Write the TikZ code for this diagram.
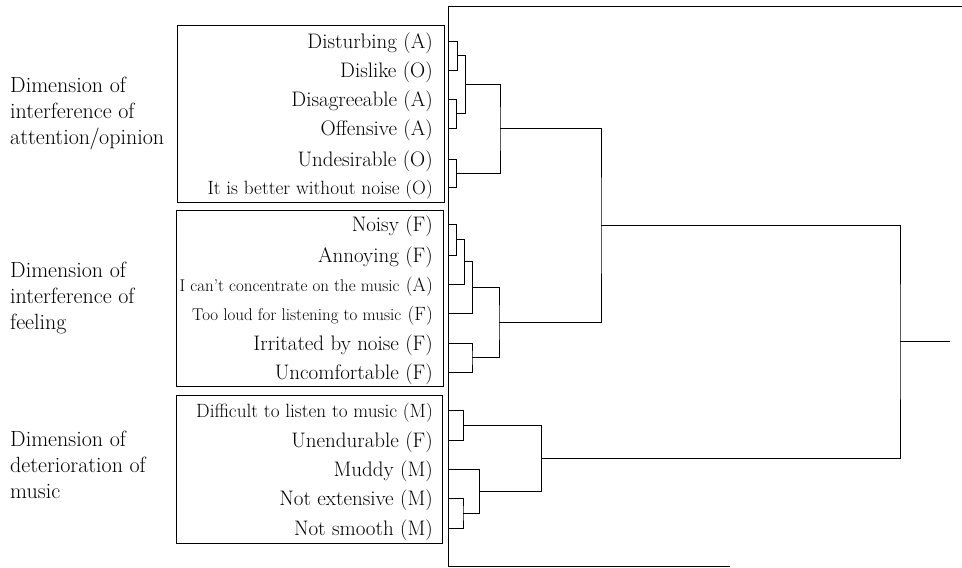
\documentclass[tikz,border=0pt]{standalone}
\usepackage{tikz}
\usetikzlibrary{calc}

\tikzset{
  lbl/.style={anchor=base east, inner sep=0pt, font=\fontsize{21}{25}\selectfont},
  dimlbl/.style={anchor=north west, inner sep=0pt, align=left, font=\fontsize{22}{26}\selectfont},
  grpbox/.style={draw, line width=0.9pt},
  tree/.style={line width=0.9pt},
}
\newcommand{\smallfnt}{\fontsize{17}{20}\selectfont}
\newcommand{\midfnt}{\fontsize{19.2}{22}\selectfont}

\begin{document}
\begin{tikzpicture}[x=1pt, y=-1pt]
  \useasboundingbox (0,0) rectangle (962,568);
  % items and leaf points
  \foreach \y/\txt [count=\i] in {41/Disturbing (A), 70/Dislike (O),
    99/Disagreeable (A), 128/Offensive (A), 159/Undesirable (O),
    187/{\midfnt It is better without noise (O)}, 224/Noisy (F), 255/Annoying (F),
    284/{{\smallfnt I can't concentrate on the music} {\midfnt(A)}},
    313/{{\smallfnt Too loud for listening to music} {\midfnt(F)}},
    343/Irritated by noise (F), 372/Uncomfortable (F),
    410/{\midfnt Difficult to listen to music (M)}, 440/Unendurable (F),
    469/Muddy (M), 498/Not extensive (M), 528/Not smooth (M)} {
    \node[lbl] (t\i) at (433,\y+7) {\txt};
    \coordinate (l\i) at (448,\y);
  }
  % group boxes
  \draw[grpbox] (177,25) rectangle (444,202);
  \draw[grpbox] (176,210) rectangle (443,386);
  \draw[grpbox] (176,395) rectangle (442,543);
  % dimensions
  \node[dimlbl] (d1) at (10,77) {Dimension of\\interference of\\attention\kern-0.5pt/\kern-0.5pt opinion};
  \node[dimlbl] (d2) at (10,262) {Dimension of\\interference of\\feeling};
  \node[dimlbl] (d3) at (10,431) {Dimension of\\deterioration of\\music};
  % frame of the tree
  \coordinate (axtop) at (448,6);
  \coordinate (axbot) at (448,566);
  \coordinate (topend) at (962,6);
  \coordinate (botend) at (730,566);
  \draw[tree] (topend) -- (axtop) -- (axbot) -- (botend);
  % merges
  \foreach \a/\b/\m/\x in {l1/l2/m12/457.7, l3/l4/m34/456.7, m12/m34/m1234/465.7,
    l5/l6/m56/456.7, m1234/m56/mA/500, l7/l8/m78/456.7, m78/l9/m789/464.3,
    m789/l10/m710/472.3, l11/l12/m1112/472, m710/m1112/mB/499, mA/mB/mAB/601,
    l13/l14/m1314/463.3, l16/l17/m1617/463, l15/m1617/m1517/479.3,
    m1314/m1517/mC/541.3, mAB/mC/root/900} {
    \path ($(\a)!0.5!(\b)$) coordinate (mid);
    \coordinate (\m) at (\x,0 |- mid);
    \draw[tree] (\a) -| (\m) |- (\b);
  }
  \coordinate (stub) at (950,0 |- root);
  \draw[tree] (root) -- (stub);
\end{tikzpicture}
\end{document}
